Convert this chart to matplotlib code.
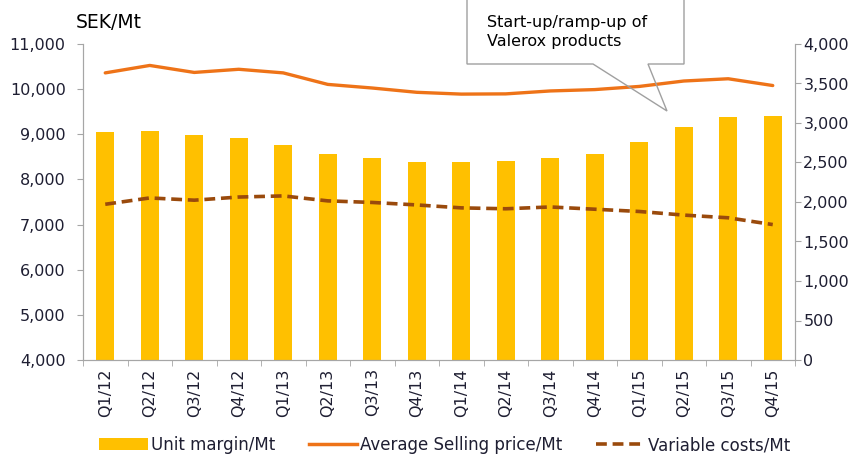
import matplotlib
matplotlib.use('Agg')
import matplotlib.pyplot as plt
from matplotlib.patches import Polygon, Patch
from matplotlib.lines import Line2D
import numpy as np

# ── data (SEK/Mt) ──────────────────────────────────────────────
quarters = ['Q1/12', 'Q2/12', 'Q3/12', 'Q4/12', 'Q1/13', 'Q2/13', 'Q3/13', 'Q4/13',
            'Q1/14', 'Q2/14', 'Q3/14', 'Q4/14', 'Q1/15', 'Q2/15', 'Q3/15', 'Q4/15']
unit_margin = [2890, 2905, 2845, 2815, 2720, 2610, 2555, 2510,
               2505, 2525, 2555, 2605, 2760, 2955, 3070, 3085]
avg_price = [10360, 10525, 10370, 10440, 10360, 10105, 10025, 9930,
             9890, 9895, 9960, 9990, 10060, 10180, 10230, 10080]
var_costs = [7450, 7590, 7540, 7610, 7635, 7525, 7490, 7435,
             7370, 7350, 7390, 7340, 7290, 7210, 7150, 7000]

BAR_C = '#FFC000'
ASP_C = '#EE7318'
VC_C = '#9A4A0C'
TXT_C = '#1E1E32'
SPINE_C = '#A6A6A6'

plt.rcParams['font.family'] = 'DejaVu Sans'
plt.rcParams['font.size'] = 11.5

W, H = 860, 461
fig = plt.figure(figsize=(W / 100, H / 100), dpi=100)
ax = fig.add_axes([83 / W, 1 - 360 / H, (795 - 83) / W, (360 - 44) / H])
ax2 = ax.twinx()

x = np.arange(len(quarters))

# bars on the right axis, lines on the left
ax.set_zorder(ax2.get_zorder() + 1)
ax.patch.set_visible(False)
ax2.bar(x, unit_margin, width=0.41, color=BAR_C, zorder=2)
ax.plot(x, avg_price, color=ASP_C, lw=2.4, solid_capstyle='round', zorder=3)
ax.plot(x, var_costs, color=VC_C, lw=2.6, ls=(0, (3, 1.6)), zorder=3)

ax.set_xlim(-0.5, len(quarters) - 0.5)
ax.set_ylim(4000, 11000)
ax2.set_ylim(0, 4000)
ax.set_yticks(np.arange(4000, 11001, 1000))
ax2.set_yticks(np.arange(0, 4001, 500))
ax.yaxis.set_major_formatter(matplotlib.ticker.StrMethodFormatter('{x:,.0f}'))
ax2.yaxis.set_major_formatter(matplotlib.ticker.StrMethodFormatter('{x:,.0f}'))

ax.set_xticks(x)
ax.set_xticklabels(quarters, rotation=90)
ax.set_xticks(np.arange(-0.5, len(quarters)), minor=True)
ax.tick_params(axis='x', which='major', length=0, pad=6, colors=TXT_C)
ax.tick_params(axis='x', which='minor', length=4, color=SPINE_C)
ax.tick_params(axis='y', length=4, color=SPINE_C, labelcolor=TXT_C, pad=8.5)
ax2.tick_params(axis='y', length=4, color=SPINE_C, labelcolor=TXT_C, pad=2)

for a in (ax, ax2):
    a.spines['top'].set_visible(False)
    for s in ('left', 'right', 'bottom'):
        a.spines[s].set_color(SPINE_C)

fig.text(76 / W, 1 - 22 / H, 'SEK/Mt', ha='left', va='center', fontsize=13.5, color='black')

# callout box: white box, outline (incl. pointer) drawn without fill
def px(xp, yp):
    return (xp / W, 1 - yp / H)

box = [px(467, -5), px(684, -5), px(684, 64), px(467, 64)]
outline = [px(467, -5), px(684, -5), px(684, 64), px(648, 64), px(667, 111),
           px(593, 64), px(467, 64)]
fig.patches.append(Polygon(box, closed=True, transform=fig.transFigure,
                           facecolor='white', edgecolor='none', zorder=5))
fig.patches.append(Polygon(outline, closed=True, transform=fig.transFigure,
                           facecolor='none', edgecolor='#A0A0A0', lw=1.0,
                           zorder=5))
fig.text(487 / W, 1 - 32 / H, 'Start-up/ramp-up of\nValerox products',
         ha='left', va='center', fontsize=11.5, color='black',
         linespacing=1.4, zorder=6)

handles = [Patch(facecolor=BAR_C, label='Unit margin/Mt'),
           Line2D([], [], color=ASP_C, lw=2.5, label='Average Selling price/Mt'),
           Line2D([], [], color=VC_C, lw=2.6, ls=(0, (3, 1.6)), label='Variable costs/Mt')]
fig.legend(handles=handles, loc='center', bbox_to_anchor=(0.517, 1 - 445 / H),
           ncol=3, frameon=False, handlelength=2.9, handletextpad=0.2,
           columnspacing=2.0, fontsize=12, labelcolor=TXT_C)

fig.savefig('out.png', dpi=100)
